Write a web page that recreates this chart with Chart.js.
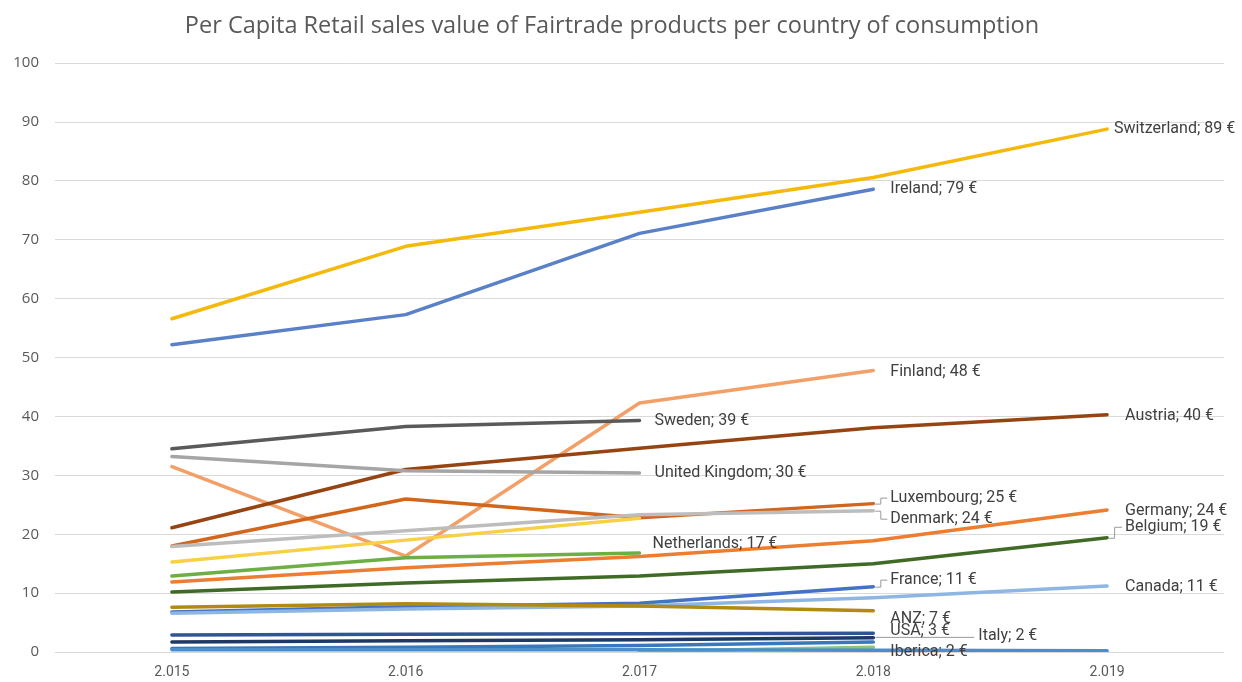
<!DOCTYPE html>
<html>
<head>
<meta charset="utf-8">
<script src="https://cdn.jsdelivr.net/npm/chart.js@4"></script>
<style>
html,body{margin:0;padding:0;background:#fff;}
#wrap{width:1242px;height:682px;position:relative;}
</style>
</head>
<body>
<div id="wrap"><canvas id="c" width="1242" height="682"></canvas></div>
<script>
// ---- data ----
const categories = ['2.015', '2.016', '2.017', '2.018', '2.019'];
const yTicks = [0, 10, 20, 30, 40, 50, 60, 70, 80, 90, 100];

const switzerland   = [56.6, 68.9, 74.7, 80.6, 88.8];
const ireland       = [52.2, 57.3, 71.1, 78.6, null];
const finland       = [31.5, 16.3, 42.3, 47.8, null];
const sweden        = [34.5, 38.3, 39.3, null, null];
const austria       = [21.1, 31.0, 34.6, 38.1, 40.3];
const unitedKingdom = [33.2, 30.8, 30.4, null, null];
const luxembourg    = [18.0, 26.0, 22.8, 25.2, null];
const denmark       = [17.9, 20.6, 23.3, 24.0, null];
const otherYellow   = [15.3, 19.0, 22.7, null, null];
const netherlands   = [12.9, 16.0, 16.8, null, null];
const germany       = [11.9, 14.3, 16.2, 18.9, 24.1];
const belgium       = [10.2, 11.7, 12.9, 15.0, 19.4];
const france        = [6.8, 7.7, 8.3, 11.1, null];
const canada        = [6.6, 7.3, 7.8, 9.2, 11.2];
const anz           = [7.6, 8.2, 7.8, 7.0, null];
const usa           = [2.9, 3.0, 3.1, 3.2, null];
const italy         = [1.7, 1.9, 2.1, 2.4, null];
const iberica       = [0.6, 0.8, 1.1, 1.7, null];
const otherBlue     = [0.4, 0.4, 0.4, 0.3, 0.2];
const otherGreen    = [null, null, 0.1, 0.8, null];

// ---- series definitions (name, values, colour, label placement) ----
const series = [
  {name: 'Other',          values: otherBlue,     color: '#4A8ED0', label: null},
  {name: 'Other ',         values: otherGreen,    color: '#8CC47A', label: null},
  {name: 'Iberica',        values: iberica,       color: '#3A78BE', label: {dx: 17, dy: 10}},
  {name: 'Italy',          values: italy,         color: '#1F3864', label: {dx: 105, dy: -2, leader: 'flat'}},
  {name: 'USA',            values: usa,           color: '#2F5597', label: {dx: 17, dy: -2}},
  {name: 'ANZ',            values: anz,           color: '#B08A12', label: {dx: 17, dy: 8}},
  {name: 'Canada',         values: canada,        color: '#8DB6E2', label: {dx: 18, dy: 1}},
  {name: 'France',         values: france,        color: '#4472C4', label: {dx: 17, dy: -7, leader: 'bracket'}},
  {name: 'Belgium',        values: belgium,       color: '#3F6B26', label: {dx: 18, dy: -11, leader: 'bracket'}},
  {name: 'Germany',        values: germany,       color: '#ED7D31', label: {dx: 18, dy: 1}},
  {name: 'Netherlands',    values: netherlands,   color: '#6DAE45', label: {dx: 13, dy: -9}},
  {name: 'Yellow',         values: otherYellow,   color: '#F7D046', label: null},
  {name: 'Denmark',        values: denmark,       color: '#BDBDBD', label: {dx: 17, dy: 8, leader: 'bracket'}},
  {name: 'Luxembourg',     values: luxembourg,    color: '#D2661C', label: {dx: 17, dy: -6, leader: 'bracket'}},
  {name: 'United Kingdom', values: unitedKingdom, color: '#A5A5A5', label: {dx: 15, dy: 0}},
  {name: 'Austria',        values: austria,       color: '#964512', label: {dx: 18, dy: 1}},
  {name: 'Sweden',         values: sweden,        color: '#5A5A5A', label: {dx: 15, dy: 0}},
  {name: 'Finland',        values: finland,       color: '#F2A068', label: {dx: 17, dy: 1}},
  {name: 'Ireland',        values: ireland,       color: '#5A80C8', label: {dx: 17, dy: 0}},
  {name: 'Switzerland',    values: switzerland,   color: '#F5B90C', label: {dx: 7, dy: 0}}
];

const endLabels = {
  id: 'endLabels',
  afterDatasetsDraw(chart) {
    const ctx = chart.ctx;
    ctx.save();
    ctx.font = '16px Roboto, "Liberation Sans", sans-serif';
    ctx.textBaseline = 'middle';
    ctx.textAlign = 'left';
    chart.data.datasets.forEach((ds, i) => {
      const lp = ds.endLabel;
      if (!lp) return;
      let last = -1;
      ds.data.forEach((v, j) => { if (v !== null) last = j; });
      const pt = chart.getDatasetMeta(i).data[last];
      const tx = pt.x + lp.dx, ty = pt.y + lp.dy;
      if (lp.leader) {
        ctx.strokeStyle = '#9a9a9a';
        ctx.lineWidth = 1;
        ctx.beginPath();
        if (lp.leader === 'bracket') {
          ctx.moveTo(pt.x + 2, pt.y + 0.5);
          ctx.lineTo(pt.x + 7.5, pt.y + 0.5);
          ctx.lineTo(pt.x + 7.5, ty + 0.5);
          ctx.lineTo(tx - 3, ty + 0.5);
        } else {
          ctx.moveTo(pt.x + 2, ty + 1.5);
          ctx.lineTo(tx - 4, ty + 1.5);
        }
        ctx.stroke();
      }
      ctx.fillStyle = '#404040';
      ctx.fillText(ds.label + '; ' + Math.round(ds.data[last]) + ' €', tx, ty);
    });
    ctx.restore();
  }
};

new Chart(document.getElementById('c'), {
  type: 'line',
  data: {
    labels: categories,
    datasets: series.map(s => ({
      label: s.name,
      data: s.values,
      borderColor: s.color,
      backgroundColor: s.color,
      borderWidth: 3.5,
      pointRadius: 0,
      tension: 0,
      borderCapStyle: 'round',
      borderJoinStyle: 'round',
      spanGaps: false,
      endLabel: s.label
    }))
  },
  options: {
    responsive: false,
    animation: false,
    layout: {padding: {left: 0, right: 18, top: 0, bottom: 0}},
    plugins: {
      legend: {display: false},
      tooltip: {enabled: false},
      title: {
        display: true,
        text: 'Per Capita Retail sales value of Fairtrade products per country of consumption',
        color: '#595959',
        font: {family: '"Open Sans", sans-serif', size: 23.5, weight: 'normal', lineHeight: 1.2},
        padding: {top: 12, bottom: 23}
      }
    },
    scales: {
      x: {
        offset: true,
        grid: {display: false, drawTicks: false},
        border: {display: false},
        ticks: {color: '#595959', font: {family: 'Roboto, sans-serif', size: 14}, padding: 12},
        afterFit(s) { s.height = 30; }
      },
      y: {
        min: 0, max: 100,
        afterBuildTicks(s) { s.ticks = yTicks.map(v => ({value: v})); },
        grid: {color: '#D9D9D9', lineWidth: 1, drawTicks: false},
        border: {display: false},
        ticks: {color: '#595959', font: {family: '"Open Sans", sans-serif', size: 15}, padding: 16},
        afterFit(s) { s.width = 55; }
      }
    }
  },
  plugins: [endLabels]
});
</script>
</body>
</html>
